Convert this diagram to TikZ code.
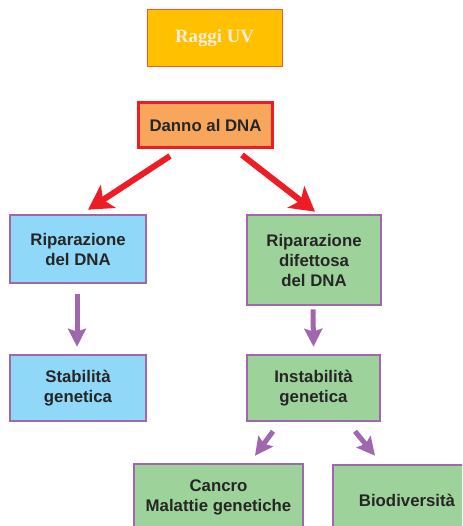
\documentclass[tikz,border=0pt]{standalone}
\usepackage{fontspec}
\setmainfont{Liberation Sans}
\newfontfamily\uvfont{Liberation Serif}
\usetikzlibrary{arrows.meta,calc}
\definecolor{gold}{HTML}{FFC000}
\definecolor{uvborder}{HTML}{F15A24}
\definecolor{uvtext}{HTML}{F4EEDC}
\definecolor{orangefill}{HTML}{F8A65B}
\definecolor{redline}{HTML}{EE1C24}
\definecolor{purpleline}{HTML}{A066AE}
\definecolor{bluefill}{HTML}{8FD8F8}
\definecolor{greenfill}{HTML}{9DD39B}
\definecolor{textdark}{HTML}{262626}
\tikzset{
  box/.style={draw=purpleline, line width=2.6pt, align=center, inner sep=0pt,
    text=textdark, font=\bfseries\fontsize{16.8}{20}\selectfont},
  bluebox/.style={box, fill=bluefill},
  greenbox/.style={box, fill=greenfill},
  redarrow/.style={draw=redline, line width=6pt, -{Stealth[length=24pt,width=27pt,inset=6pt]}},
  purplearrow/.style={draw=purpleline, line width=5pt, -{Stealth[length=18pt,width=18pt,inset=3pt]}}
}
\begin{document}
\begin{tikzpicture}[x=1pt,y=-1pt]
\clip (0,0) rectangle (462,526);
\fill[white] (0,0) rectangle (462,526);
\node[draw=uvborder, line width=1pt, fill=gold, minimum width=135pt, minimum height=57pt,
  text=uvtext, font=\uvfont\bfseries\fontsize{18.8}{22}\selectfont, inner sep=0pt] (raggi) at (214.5,38.5) {Raggi UV};
\node[draw=redline, line width=3pt, fill=orangefill, minimum width=134pt, minimum height=45pt,
  text=textdark, font=\bfseries\fontsize{16.8}{20}\selectfont, inner sep=0pt] (danno) at (205.5,125) {Danno al DNA};
\node[bluebox, minimum width=136pt, minimum height=68pt] (rip) at (78,249) {Riparazione\\del DNA};
\node[greenbox, minimum width=134pt, minimum height=90pt] (ripdif) at (314,260) {Riparazione\\difettosa\\del DNA};
\node[bluebox, minimum width=136pt, minimum height=66pt] (stab) at (78,388) {Stabilità\\genetica};
\node[greenbox, minimum width=133pt, minimum height=66pt] (instab) at (313.5,388) {Instabilità\\genetica};
\node[greenbox, minimum width=169pt, minimum height=66pt] (cancro) at (218.5,497) {Cancro\\Malattie genetiche};
\node[greenbox, minimum width=148pt, minimum height=70pt] (bio) at (407,500) {Biodiversità};
\draw[redarrow] ($(danno.south)+(-35.5,7)$) -- ($(rip.north)+(10,-4)$);
\draw[redarrow] ($(danno.south)+(36.5,6)$) -- ($(ripdif.north)+(1,-2)$);
\draw[purplearrow] ($(rip.south)+(-1,10)$) -- ($(stab.north)+(-1,-7)$);
\draw[purplearrow] ($(ripdif.south)+(-1,3)$) -- ($(instab.north)+(0,-7)$);
\draw[purplearrow] ($(instab.south)+(-40.5,9)$) -- ($(cancro.north)+(36.5,-7)$);
\draw[purplearrow] ($(instab.south)+(41.5,9)$) -- ($(bio.north)+(-32,-8)$);
\end{tikzpicture}
\end{document}
